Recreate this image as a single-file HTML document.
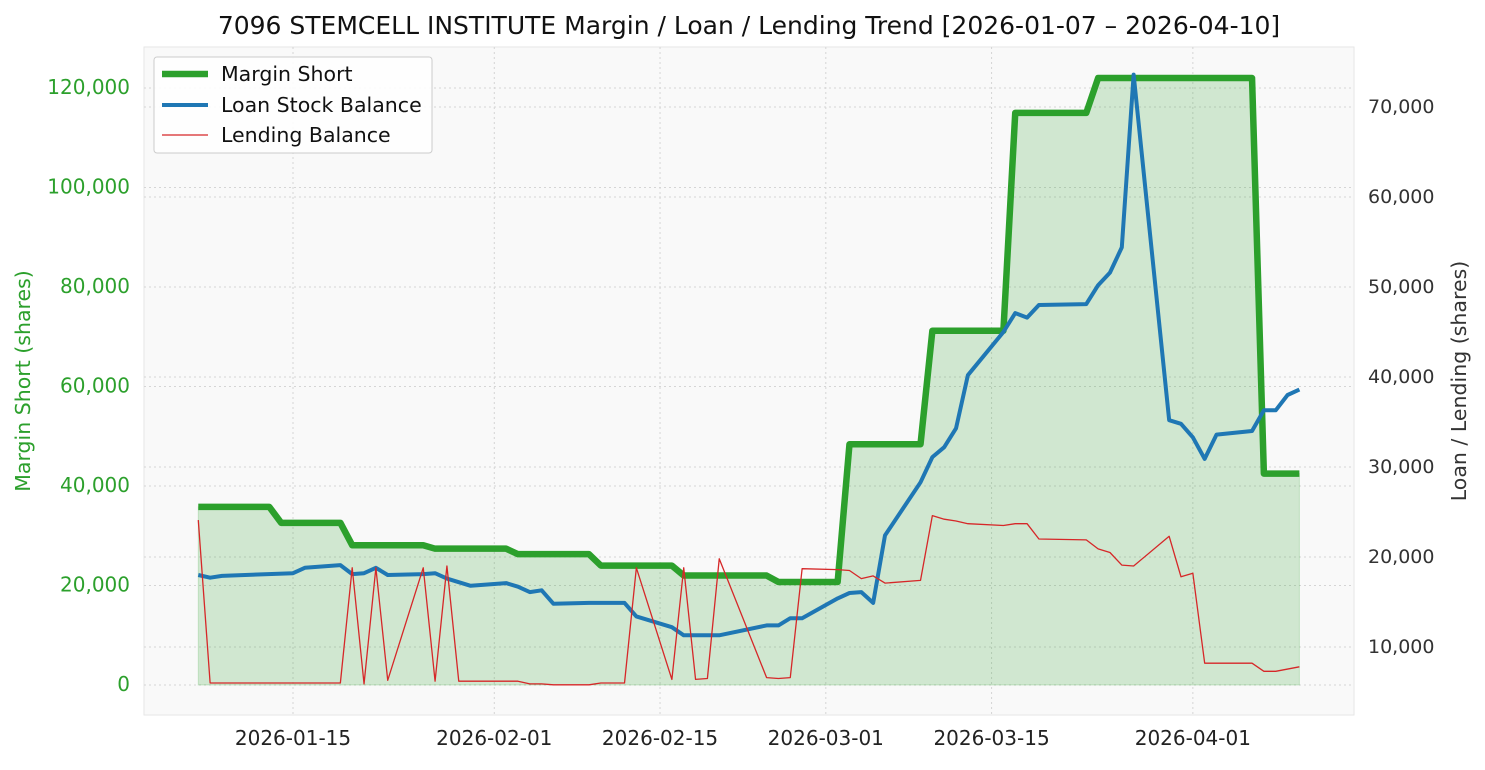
<!DOCTYPE html>
<html><head><meta charset="utf-8"><style>
body{margin:0;background:#fff;font-family:"Liberation Sans","DejaVu Sans",sans-serif}
svg text{font-family:"DejaVu Sans","Liberation Sans",sans-serif}
</style></head><body>
<svg id="chart" width="1485" height="765" xmlns="http://www.w3.org/2000/svg"></svg>
<script>
const marginDates=["2026-01-07","2026-01-13","2026-01-14","2026-01-19","2026-01-20","2026-01-26","2026-01-27","2026-02-02","2026-02-03","2026-02-09","2026-02-10","2026-02-16","2026-02-17","2026-02-24","2026-02-25","2026-03-02","2026-03-03","2026-03-09","2026-03-10","2026-03-16","2026-03-17","2026-03-23","2026-03-24","2026-04-06","2026-04-07","2026-04-10"];
const marginValues=[35800,35800,32600,32600,28100,28100,27400,27400,26300,26300,24000,24000,22000,22000,20700,20700,48400,48400,71200,71200,115000,115000,122000,122000,42500,42500];
const loanDates=["2026-01-07","2026-01-08","2026-01-09","2026-01-15","2026-01-16","2026-01-19","2026-01-20","2026-01-21","2026-01-22","2026-01-23","2026-01-26","2026-01-27","2026-01-28","2026-01-30","2026-02-02","2026-02-03","2026-02-04","2026-02-05","2026-02-06","2026-02-09","2026-02-12","2026-02-13","2026-02-16","2026-02-17","2026-02-20","2026-02-24","2026-02-25","2026-02-26","2026-02-27","2026-03-02","2026-03-03","2026-03-04","2026-03-05","2026-03-06","2026-03-09","2026-03-10","2026-03-11","2026-03-12","2026-03-13","2026-03-16","2026-03-17","2026-03-18","2026-03-19","2026-03-23","2026-03-24","2026-03-25","2026-03-26","2026-03-27","2026-03-30","2026-03-31","2026-04-01","2026-04-02","2026-04-03","2026-04-06","2026-04-07","2026-04-08","2026-04-09","2026-04-10"];
const loanValues=[18000,17700,17900,18200,18800,19100,18100,18200,18800,18000,18100,18200,17600,16800,17100,16700,16100,16300,14800,14900,14900,13400,12200,11300,11300,12400,12400,13200,13200,15400,16000,16100,14900,22400,28300,31100,32200,34300,40200,45000,47100,46600,48000,48100,50200,51600,54400,73600,35200,34800,33300,30900,33600,34000,36300,36300,38000,38600];
const lendDates=["2026-01-07","2026-01-08","2026-01-19","2026-01-20","2026-01-21","2026-01-22","2026-01-23","2026-01-26","2026-01-27","2026-01-28","2026-01-29","2026-02-03","2026-02-04","2026-02-05","2026-02-06","2026-02-09","2026-02-10","2026-02-12","2026-02-13","2026-02-16","2026-02-17","2026-02-18","2026-02-19","2026-02-20","2026-02-24","2026-02-25","2026-02-26","2026-02-27","2026-03-02","2026-03-03","2026-03-04","2026-03-05","2026-03-06","2026-03-09","2026-03-10","2026-03-11","2026-03-12","2026-03-13","2026-03-16","2026-03-17","2026-03-18","2026-03-19","2026-03-23","2026-03-24","2026-03-25","2026-03-26","2026-03-27","2026-03-30","2026-03-31","2026-04-01","2026-04-02","2026-04-06","2026-04-07","2026-04-08","2026-04-10"];
const lendValues=[24100,6000,6000,18800,5900,18800,6300,18800,6200,19000,6200,6200,5900,5900,5800,5800,6000,6000,18800,6400,18800,6400,6500,19800,6600,6500,6600,18700,18600,18500,17600,17900,17100,17400,24600,24200,24000,23700,23500,23700,23700,22000,21900,20900,20500,19100,19000,22300,17800,18200,8200,8200,7300,7300,7800];
const leftTicks=[0,20000,40000,60000,80000,100000,120000];
const rightTicks=[10000,20000,30000,40000,50000,60000,70000];
const xTicks=["2026-01-15","2026-02-01","2026-02-15","2026-03-01","2026-03-15","2026-04-01"];

const svg=document.getElementById('chart');const NS="http://www.w3.org/2000/svg";
function mk(t,a,p){const e=document.createElementNS(NS,t);for(const k in a)e.setAttribute(k,a[k]);(p||svg).appendChild(e);return e;}
const L=144,R=1354,T=47,B=715;
const d0=Date.UTC(2026,0,15);
function X(ds){const p=ds.split('-').map(Number);return 293+(Date.UTC(p[0],p[1]-1,p[2])-d0)/864e5*11.84;}
function YL(v){return 685-v*99.5/20000;}
function YR(v){return 737-v*90/10000;}
const fmt=v=>v.toLocaleString('en-US');
const bg=mk('rect',{x:L,y:T,width:R-L,height:B-T,fill:'#f9f9f9',stroke:'#e6e6e6'});


const grid={stroke:'#d5d5d5','stroke-width':1,'stroke-dasharray':'2,3'};
xTicks.forEach(t=>{const x=X(t);mk('line',Object.assign({x1:x,x2:x,y1:T,y2:B},grid));
const tx=mk('text',{x:x,y:745,'text-anchor':'middle','font-size':20,fill:'#222'});tx.textContent=t;

});
leftTicks.forEach(v=>{const y=YL(v);mk('line',Object.assign({x1:L,x2:R,y1:y,y2:y},grid));
const tx=mk('text',{x:130,y:y+6,'text-anchor':'end','font-size':20,fill:'#2ca02c'});tx.textContent=fmt(v);

});
rightTicks.forEach(v=>{const y=YR(v);mk('line',Object.assign({x1:L,x2:R,y1:y,y2:y},grid));
const tx=mk('text',{x:1368,y:y+6,'font-size':19,fill:'#333'});tx.textContent=fmt(v);

});
let fp=marginDates.map((d,i)=>X(d)+','+YL(marginValues[i])).join(' L');
fp='M'+X(marginDates[0])+','+YL(0)+' L'+fp+' L'+X(marginDates[marginDates.length-1])+','+YL(0)+'Z';
const fa=mk('path',{d:fp,fill:'#2ca02c','fill-opacity':0.2,stroke:'#2ca02c','stroke-opacity':0.2});


function line(ds,vs,yf,col,w,name){const p=mk('path',{d:'M'+ds.map((d,i)=>X(d)+','+yf(vs[i])).join(' L'),fill:'none',stroke:col,'stroke-width':w,'stroke-linejoin':'round'});

}
line(marginDates,marginValues,YL,'#2ca02c',6.5,'margin-short-line');
line(loanDates,loanValues,YR,'#1f77b4',4,'loan-stock-balance-line');
line(lendDates,lendValues,YR,'#d62728',1.3,'lending-balance-line');
const ti=mk('text',{x:749,y:34,'text-anchor':'middle','font-size':25,fill:'#111'});ti.textContent='7096 STEMCELL INSTITUTE Margin / Loan / Lending Trend [2026-01-07 – 2026-04-10]';


const yl=mk('text',{x:30,y:381,'text-anchor':'middle','font-size':20.5,fill:'#2ca02c',transform:'rotate(-90 30 381)'});yl.textContent='Margin Short (shares)';


const yr=mk('text',{x:1466,y:381,'text-anchor':'middle','font-size':20.5,fill:'#333',transform:'rotate(-90 1466 381)'});yr.textContent='Loan / Lending (shares)';


const lg=mk('g',{});


mk('rect',{x:154,y:57,width:278,height:96,rx:3,fill:'#fff','fill-opacity':0.85,stroke:'#ccc'},lg);
[['Margin Short','#2ca02c',6.5,74],['Loan Stock Balance','#1f77b4',4,105],['Lending Balance','#d62728',1.3,135]].forEach(e=>{
mk('line',{x1:162,x2:208,y1:e[3],y2:e[3],stroke:e[1],'stroke-width':e[2]},lg);
const t=mk('text',{x:221,y:e[3]+7,'font-size':20.5,fill:'#111'},lg);t.textContent=e[0];

});
</script>
</body></html>
